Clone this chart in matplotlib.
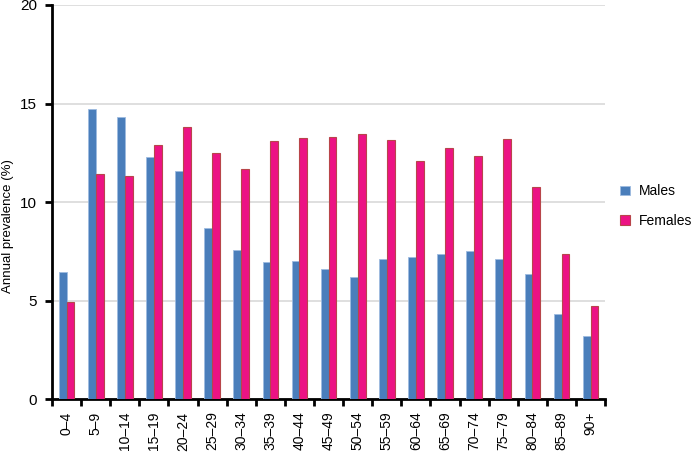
import matplotlib
matplotlib.use("Agg")
import matplotlib.pyplot as plt
import numpy as np

categories = ["0–4", "5–9", "10–14", "15–19", "20–24", "25–29", "30–34", "35–39",
              "40–44", "45–49", "50–54", "55–59", "60–64", "65–69", "70–74", "75–79",
              "80–84", "85–89", "90+"]
males = [6.45, 14.7, 14.3, 12.3, 11.55, 8.7, 7.55, 6.95, 7.0, 6.6, 6.2, 7.1, 7.2,
         7.35, 7.5, 7.1, 6.35, 4.3, 3.2]
females = [4.95, 11.4, 11.3, 12.9, 13.8, 12.5, 11.7, 13.1, 13.25, 13.3, 13.45, 13.15,
           12.1, 12.75, 12.35, 13.2, 10.75, 7.35, 4.7]

plt.rcParams['font.family'] = ['Liberation Sans', 'DejaVu Sans']

fig = plt.figure(figsize=(6.94, 4.53), dpi=100)
ax = fig.add_axes([0.075, 0.119, 0.797, 0.870])

x = np.arange(len(categories))
w = 0.27
ax.bar(x - w/2, males, w, color='#4a7ebb', edgecolor='#9dbbe0', linewidth=0.6,
       label='Males', zorder=3)
ax.bar(x + w/2, females, w, color='#ec1384', edgecolor='#b8454a', linewidth=0.8,
       label='Females', zorder=3)

ax.set_xlim(-0.5, len(categories) - 0.5)
ax.set_ylim(0, 20)
ax.set_yticks([0, 5, 10, 15, 20])
ax.yaxis.grid(True, color='#d9d9d9', linewidth=1.2, zorder=0)
ax.set_axisbelow(True)

ax.set_xticks(x)
ax.set_xticklabels(categories, rotation=90, fontsize=10)
ax.set_xticks(np.arange(len(categories) + 1) - 0.5, minor=True)
ax.tick_params(axis='x', which='major', length=0, pad=9)
ax.tick_params(axis='x', which='minor', length=5, width=2, direction='out')
ax.tick_params(axis='y', length=5, width=2, labelsize=11, pad=6)

for s in ['top', 'right']:
    ax.spines[s].set_visible(False)
for s in ['left', 'bottom']:
    ax.spines[s].set_linewidth(2)
    ax.spines[s].set_color('black')

fig.text(0.012, 0.5, 'Annual prevalence (%)', rotation=90, fontsize=9.5,
         ha='center', va='center')

ax.legend(loc='center left', bbox_to_anchor=(1.01, 0.49), frameon=False,
          fontsize=10, handlelength=0.7, handleheight=0.7, labelspacing=1.1,
          handletextpad=0.6, borderaxespad=0.3)

fig.savefig('out.png', dpi=100)
